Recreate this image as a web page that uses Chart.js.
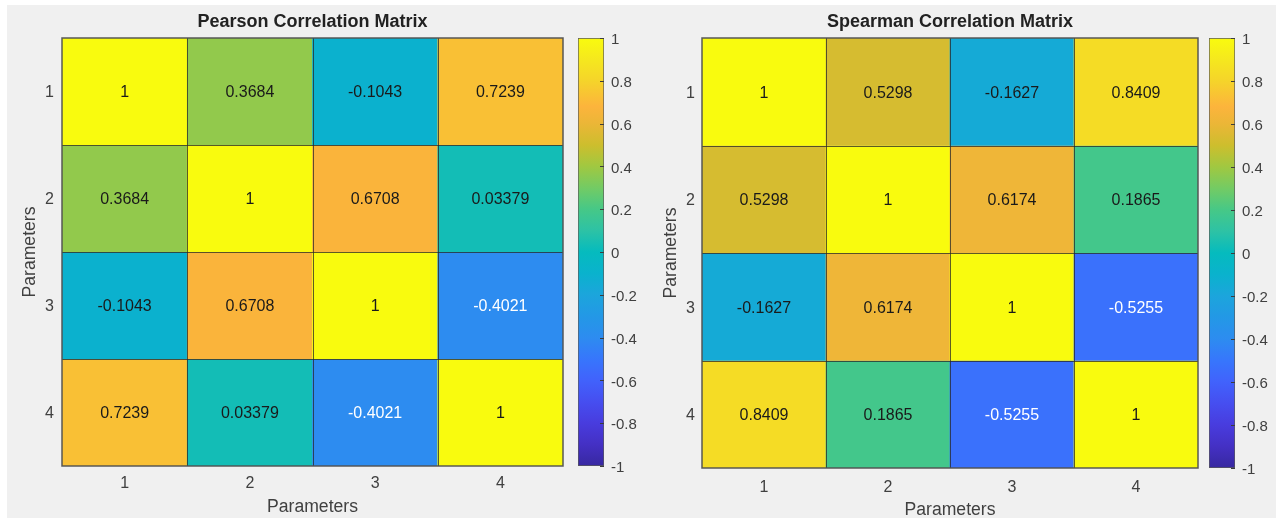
<!DOCTYPE html>
<html>
<head>
<meta charset="utf-8">
<script src="https://cdn.jsdelivr.net/npm/chart.js@4.4.0/dist/chart.umd.min.js"></script>
<style>
  html, body { margin: 0; padding: 0; background: #ffffff; width: 1276px; height: 518px; overflow: hidden; }
  #panel { position: absolute; left: 7px; top: 5px; width: 1269px; height: 513px; background: #f0f0f0; }
  canvas { position: absolute; top: 0; }
</style>
</head>
<body>
<div id="panel"></div>
<canvas id="pearson" width="570" height="518" style="left:0px"></canvas>
<canvas id="pearsonBar" width="70" height="518" style="left:570px"></canvas>
<canvas id="spearman" width="566" height="521" style="left:640px"></canvas>
<canvas id="spearmanBar" width="76" height="521" style="left:1200px"></canvas>
<script>
// Parameter indices shown on both axes
const params = ['1', '2', '3', '4'];

// Correlation coefficients, row by row
const pearson = [
  [1, 0.3684, -0.1043, 0.7239],
  [0.3684, 1, 0.6708, 0.03379],
  [-0.1043, 0.6708, 1, -0.4021],
  [0.7239, 0.03379, -0.4021, 1]
];
const spearman = [
  [1, 0.5298, -0.1627, 0.8409],
  [0.5298, 1, 0.6174, 0.1865],
  [-0.1627, 0.6174, 1, -0.5255],
  [0.8409, 0.1865, -0.5255, 1]
];

// Colour scale range and its tick labels
const colorbarTicks = [-1, -0.8, -0.6, -0.4, -0.2, 0, 0.2, 0.4, 0.6, 0.8, 1];

// Parula-style colour map: [value, r, g, b]
const parulaStops = [
  [-1.0, 55, 40, 160], [-0.9, 68, 48, 196], [-0.8, 72, 60, 222], [-0.7, 70, 78, 240],
  [-0.6, 65, 98, 252], [-0.5, 55, 118, 252], [-0.4, 45, 140, 240], [-0.3, 35, 152, 230],
  [-0.2, 28, 165, 220], [-0.1, 10, 178, 205], [0.0, 5, 187, 190], [0.1, 45, 194, 165],
  [0.2, 70, 200, 135], [0.3, 115, 203, 100], [0.4, 160, 200, 65], [0.5, 205, 190, 45],
  [0.6, 235, 182, 55], [0.68, 252, 180, 60], [0.8, 245, 212, 42], [0.9, 245, 232, 30],
  [1.0, 249, 251, 14]
];

const FONT = "'Liberation Sans', Arial, Helvetica, sans-serif";
Chart.defaults.font.family = FONT;

function parula(v) {
  const s = parulaStops;
  if (v <= s[0][0]) return s[0].slice(1);
  for (let i = 1; i < s.length; i++) {
    if (v <= s[i][0]) {
      const t = (v - s[i - 1][0]) / (s[i][0] - s[i - 1][0]);
      return [1, 2, 3].map(k => Math.round(s[i - 1][k] + t * (s[i][k] - s[i - 1][k])));
    }
  }
  return s[s.length - 1].slice(1);
}
const rgb = c => `rgb(${c[0]},${c[1]},${c[2]})`;
const fmt = v => String(Number(v.toPrecision(4)));
function textColor(v) {
  const c = parula(v);
  const lum = (0.299 * c[0] + 0.587 * c[1] + 0.114 * c[2]) / 255;
  return lum < 0.5 ? '#ffffff' : '#1a1a1a';
}

// Cell separators, frame and value labels on top of the heatmap bars
const cellPlugin = {
  id: 'cells',
  afterDatasetsDraw(chart, args, opts) {
    const { ctx, chartArea: a, scales: { x, y } } = chart;
    ctx.save();
    ctx.strokeStyle = 'rgba(40,40,40,0.75)';
    ctx.lineWidth = 1;
    ctx.beginPath();
    for (let i = 1; i < params.length; i++) {
      const px = Math.round((x.getPixelForTick(i - 1) + x.getPixelForTick(i)) / 2) + 0.5;
      ctx.moveTo(px, a.top); ctx.lineTo(px, a.bottom);
      const py = Math.round(y.getPixelForValue(i + 0.5)) + 0.5;
      ctx.moveTo(a.left, py); ctx.lineTo(a.right, py);
    }
    ctx.stroke();
    ctx.strokeStyle = 'rgba(80,80,80,0.95)';
    ctx.lineWidth = 1.5;
    ctx.strokeRect(a.left, a.top, a.right - a.left, a.bottom - a.top);

    ctx.font = `16px ${FONT}`;
    ctx.textAlign = 'center';
    ctx.textBaseline = 'middle';
    chart.data.datasets.forEach((ds, r) => {
      chart.getDatasetMeta(r).data.forEach((bar, c) => {
        const v = opts.matrix[r][c];
        ctx.fillStyle = textColor(v);
        ctx.fillText(fmt(v), bar.x, (bar.y + bar.base) / 2 + 1.5);
      });
    });
    ctx.restore();
  }
};

// Small inward tick marks on the colour bar
const cbTicks = {
  id: 'cbTicks',
  afterDatasetsDraw(chart) {
    const { ctx, chartArea: a, scales: { y } } = chart;
    ctx.save();
    ctx.strokeStyle = '#3c3c3c';
    ctx.lineWidth = 1;
    ctx.beginPath();
    y.ticks.forEach(t => {
      const py = Math.round(y.getPixelForValue(t.value)) + 0.5;
      ctx.moveTo(a.right - 4, py); ctx.lineTo(a.right, py);
    });
    ctx.stroke();
    ctx.restore();
  }
};

function heatmap(id, titleText, matrix, geo) {
  const datasets = matrix.map((row, r) => ({
    data: row.map(() => [r + 0.5, r + 1.5]),
    backgroundColor: row.map(v => rgb(parula(v))),
    borderWidth: 0,
    grouped: false,
    barPercentage: 1,
    categoryPercentage: 1
  }));
  const tickColor = '#404040';
  return new Chart(document.getElementById(id), {
    type: 'bar',
    data: { labels: params, datasets },
    options: {
      responsive: false,
      animation: false,
      events: [],
      layout: { padding: { left: 0, right: geo.right, top: 0, bottom: 0 } },
      plugins: {
        legend: { display: false },
        tooltip: { enabled: false },
        title: {
          display: true, text: titleText, fullSize: false, color: '#222222',
          font: { size: 18, weight: 'bold' }, padding: { top: 11.2, bottom: 5.2 }
        },
        cells: { matrix }
      },
      scales: {
        x: {
          offset: true,
          grid: { display: false, drawTicks: false },
          border: { display: false },
          ticks: { color: tickColor, font: { size: 16 }, padding: geo.xPad, maxRotation: 0 },
          title: { display: true, text: 'Parameters', color: tickColor, font: { size: 17.6 }, padding: { top: 0, bottom: 0 } },
          afterFit: s => { s.height = geo.xHeight; }
        },
        y: {
          type: 'linear', min: 0.5, max: 4.5, reverse: true,
          grid: { display: false, drawTicks: false },
          border: { display: false },
          afterBuildTicks: s => { s.ticks = params.map(p => ({ value: Number(p) })); },
          ticks: { color: tickColor, font: { size: 16 }, padding: geo.yPad, labelOffset: 1.5, callback: v => params[v - 1] },
          title: { display: true, text: 'Parameters', color: tickColor, font: { size: 17.6 }, padding: { top: geo.yTitlePad, bottom: 0 } },
          afterFit: s => { s.width = geo.yWidth; }
        }
      }
    },
    plugins: [cellPlugin]
  });
}

function colorbar(id, geo) {
  return new Chart(document.getElementById(id), {
    type: 'bar',
    data: {
      labels: [''],
      datasets: [{
        data: [[colorbarTicks[0], colorbarTicks[colorbarTicks.length - 1]]],
        backgroundColor: c => {
          const a = c.chart.chartArea;
          if (!a) return 'transparent';
          const y = c.chart.scales.y;
          const g = c.chart.ctx.createLinearGradient(0, y.getPixelForValue(-1), 0, y.getPixelForValue(1));
          parulaStops.forEach(s => g.addColorStop((s[0] + 1) / 2, rgb(s.slice(1))));
          return g;
        },
        borderColor: '#5a5a5a',
        borderWidth: 1,
        borderSkipped: false,
        barPercentage: 1,
        categoryPercentage: 1
      }]
    },
    options: {
      responsive: false,
      animation: false,
      events: [],
      layout: { padding: { left: geo.left, right: 0, top: 38, bottom: geo.bottom } },
      plugins: { legend: { display: false }, tooltip: { enabled: false } },
      scales: {
        x: { display: false },
        y: {
          position: 'right', min: -1, max: 1,
          grid: { display: false, drawTicks: false },
          border: { display: false },
          afterBuildTicks: s => { s.ticks = colorbarTicks.map(v => ({ value: v })); },
          ticks: { color: '#404040', font: { size: 15 }, padding: 7, labelOffset: 2, callback: v => String(v) },
          afterFit: s => { s.width = geo.axisWidth; }
        }
      }
    },
    plugins: [cbTicks]
  });
}

heatmap('pearson', 'Pearson Correlation Matrix', pearson,
  { right: 7, xPad: 8, xHeight: 52, yPad: 8, yTitlePad: 19.5, yWidth: 62 });
colorbar('pearsonBar', { left: 8, bottom: 52, axisWidth: 36 });

heatmap('spearman', 'Spearman Correlation Matrix', spearman,
  { right: 8, xPad: 10, xHeight: 53, yPad: 7, yTitlePad: 20.5, yWidth: 62 });
colorbar('spearmanBar', { left: 9, bottom: 53, axisWidth: 41 });
</script>
</body>
</html>
